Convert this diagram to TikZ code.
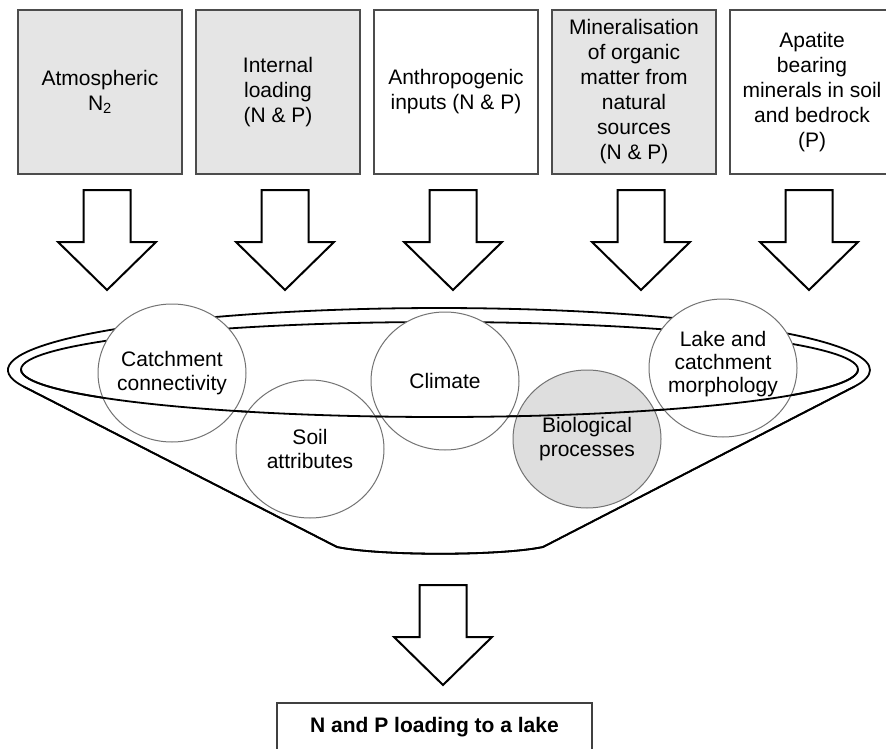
\documentclass[tikz,border=0pt]{standalone}
\usepackage{fontspec}
\setmainfont{Liberation Sans}
\usetikzlibrary{shapes.geometric}

\tikzset{
  source/.style={draw=black!70, line width=2pt, fill=white, minimum width=164pt, minimum height=164pt, inner sep=1pt, align=center, font=\fontsize{21}{25}\selectfont},
  natural/.style={source, fill=black!10},
  factor/.style={ellipse, draw=black!55, line width=1pt, fill=white, minimum width=148pt, minimum height=138pt, inner xsep=-5pt, inner ysep=0pt, align=center, font=\fontsize{21}{24}\selectfont},
  funnel/.style={line width=1.8pt, line join=round},
  fatarrow/.pic={\draw[line width=2pt, fill=white] (-23.5,0) -- (23.5,0) -- (23.5,-52) -- (49,-52) -- (0,-100) -- (-49,-52) -- (-23.5,-52) -- cycle;}
}

\begin{document}
\begin{tikzpicture}[x=1pt, y=1pt]
            \useasboundingbox (0,0) rectangle (886,-749);

            % sources
            \node[natural] (atmos) at (100,-92) {Atmospheric\\N\textsubscript{2}};
            \node[natural] (internal) at (278,-92) {Internal\\loading\\(N \& P)};
            \node[source] (anthro) at (456,-92) {Anthropogenic\\inputs (N \& P)};
            \node[natural] (mineral) at (634,-92) {Mineralisation\\of organic\\matter from\\natural\\sources\\(N \& P)};
            \node[source] (apatite) at (812,-92) {Apatite\\bearing\\minerals in soil\\and bedrock\\(P)};

            \pic at (107,-190) {fatarrow};
            \pic at (285,-190) {fatarrow};
            \pic at (453,-190) {fatarrow};
            \pic at (641,-190) {fatarrow};
            \pic at (809,-190) {fatarrow};

            % funnel, back part
            \draw[funnel, fill=white] (23.7,-386.6) arc[start angle=195.5, end angle=-15.5, x radius=431pt, y radius=62pt]
                -- (543,-547) .. controls (500,-556) and (380,-556) .. (337,-547) -- cycle;
            \draw[funnel] (439.5,-369.5) ellipse [x radius=418.5pt, y radius=47.5pt];

            % factors
            \node[factor] (catchment) at (172,-373) {Catchment\\connectivity};
            \node[factor] (soil) at (310,-449) {Soil\\attributes};
            \node[factor] (climate) at (445,-381) {Climate};
            \node[factor, fill=black!13] (bio) at (587,-439) {Biological\\processes};
            \node[factor, font=\fontsize{21}{23}\selectfont, text depth=12pt] (lake) at (723,-368) {Lake and\\catchment\\morphology};

            % funnel, front part
            \draw[funnel] (21,-369.5) arc[start angle=180, end angle=360, x radius=418.5pt, y radius=47.5pt];
            \draw[funnel] (23.7,-386.6) -- (337,-547) .. controls (380,-556) and (500,-556) .. (543,-547) -- (854.3,-386.6);

            \pic at (443,-585) {fatarrow};
            \node[draw=black!75, line width=1.5pt, minimum width=315pt, minimum height=48pt, font=\fontsize{21}{25}\selectfont\bfseries] (loading) at (434.5,-727) {N and P loading to a lake};
        \end{tikzpicture}
\end{document}
